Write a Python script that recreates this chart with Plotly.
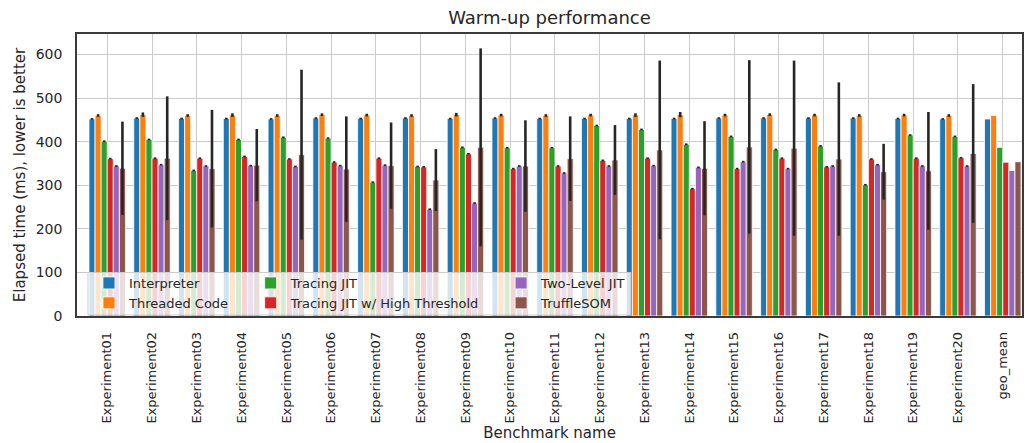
import plotly.graph_objects as go

categories = [f"Experiment{i:02d}" for i in range(1, 21)] + ["geo_mean"]

series_names = ["Interpreter", "Threaded Code", "Tracing JIT",
                "Tracing JIT w/ High Threshold", "Two-Level JIT", "TruffleSOM"]

interpreter = [452, 454, 453, 453, 452, 454, 453, 454, 453, 454, 453,
               453, 453, 453, 454, 454, 454, 454, 453, 452, 452]
interpreter_err = [2, 2, 2, 2, 2, 2, 2, 2, 2, 2, 2,
                   2, 2, 2, 2, 2, 2, 2, 2, 2, 0]
threaded = [460, 462, 460, 461, 460, 462, 461, 460, 462, 461, 460,
            461, 461, 462, 461, 462, 461, 460, 461, 460, 460]
threaded_err = [3, 5, 3, 4, 3, 3, 3, 3, 4, 3, 3,
                3, 4, 6, 3, 3, 3, 3, 3, 3, 0]
tracing = [401, 405, 334, 405, 410, 408, 307, 343, 387, 386, 386,
           437, 428, 394, 412, 382, 390, 301, 415, 412, 387]
tracing_err = [2, 2, 2, 2, 2, 2, 2, 2, 2, 2, 2,
               2, 2, 2, 2, 2, 2, 2, 2, 2, 0]
high = [361, 362, 362, 366, 360, 353, 362, 342, 372, 338, 344,
        357, 362, 292, 338, 362, 342, 360, 362, 363, 353]
high_err = [2, 2, 2, 2, 2, 2, 2, 2, 2, 2, 2,
            2, 2, 2, 2, 2, 2, 2, 2, 2, 0]
twolevel = [344, 347, 344, 345, 343, 345, 346, 245, 259, 344, 328,
            344, 345, 341, 354, 338, 344, 347, 344, 344, 334]
twolevel_err = [2, 2, 2, 2, 2, 2, 2, 2, 2, 2, 2,
                2, 2, 2, 2, 2, 2, 2, 2, 2, 0]
truffle = [339, 362, 338, 346, 370, 337, 345, 312, 387, 344, 361,
           358, 381, 339, 388, 385, 360, 331, 333, 373, 354]
truffle_err = [107, 142, 135, 83, 195, 121, 99, 71, 227, 105, 97,
               80, 205, 108, 199, 201, 176, 64, 135, 159, 0]

values = [interpreter, threaded, tracing, high, twolevel, truffle]
errors = [interpreter_err, threaded_err, tracing_err, high_err, twolevel_err, truffle_err]
colors = ["#1f77b4", "#ff7f0e", "#2ca02c", "#d62728", "#9467bd", "#8c564b"]
legend_ids = ["legend", "legend", "legend2", "legend2", "legend3", "legend3"]

FONT = "DejaVu Sans"
TXT = "#262626"

fig = go.Figure()
for name, vals, errs, col, lg in zip(series_names, values, errors, colors, legend_ids):
    fig.add_trace(go.Bar(
        x=categories, y=vals, name=name, legend=lg,
        marker=dict(color=col, line=dict(color="white", width=0.8)),
        error_y=dict(type="data", array=errs, visible=True,
                     color="#262626", thickness=2.6, width=0),
    ))

W, H = 1025, 443
L, R, T, B = 77, 1, 34, 127
pw, ph = W - L - R, H - T - B

def px_x(p):
    return (p - L) / pw

def px_y(p):
    return (H - B - p) / ph

legend_common = dict(
    bgcolor="rgba(0,0,0,0)", borderwidth=0,
    font=dict(family=FONT, size=13, color=TXT),
    orientation="v", yanchor="top", xanchor="left",
    tracegroupgap=0, itemwidth=30,
)

fig.update_layout(
    width=W, height=H,
    margin=dict(l=L, r=R, t=T, b=B, pad=0),
    paper_bgcolor="white", plot_bgcolor="white",
    font=dict(family=FONT, color=TXT),
    title=dict(text="Warm-up performance", x=px_x((L + W - R) / 2), xref="paper",
               xanchor="center", y=1 - 18 / H, yanchor="middle",
               font=dict(family=FONT, size=18, color=TXT)),
    barmode="group", bargap=0.185, bargroupgap=0.0,
    legend=dict(x=px_x(89), y=px_y(268), **legend_common),
    legend2=dict(x=px_x(251), y=px_y(268), **legend_common),
    legend3=dict(x=px_x(502), y=px_y(268), **legend_common),
    shapes=[dict(type="rect", xref="paper", yref="paper",
                 x0=px_x(88), x1=px_x(632), y0=px_y(315), y1=px_y(272.5),
                 fillcolor="rgba(255,255,255,0.8)",
                 line=dict(color="#cccccc", width=1), layer="above")],
    xaxis=dict(
        type="category", range=[-0.675, 20.43],
        tickangle=-90, tickfont=dict(family=FONT, size=13, color=TXT),
        ticklabelstandoff=9,
        showgrid=True, gridcolor="#cccccc", gridwidth=1,
        showline=True, linecolor="#3a3a3a", linewidth=1.5, mirror=True,
        ticks="",
        title=dict(text="Benchmark name", standoff=5,
                   font=dict(family=FONT, size=15, color=TXT)),
    ),
    yaxis=dict(
        range=[0, 647], dtick=100, tick0=0,
        tickfont=dict(family=FONT, size=14, color=TXT),
        ticklabelstandoff=10,
        showgrid=True, gridcolor="#cccccc", gridwidth=1,
        zeroline=False,
        showline=True, linecolor="#3a3a3a", linewidth=1.5, mirror=True,
        ticks="",
        title=dict(text="Elapsed time (ms), lower is better", standoff=6,
                   font=dict(family=FONT, size=15, color=TXT)),
    ),
)

fig.write_html("out.html")
